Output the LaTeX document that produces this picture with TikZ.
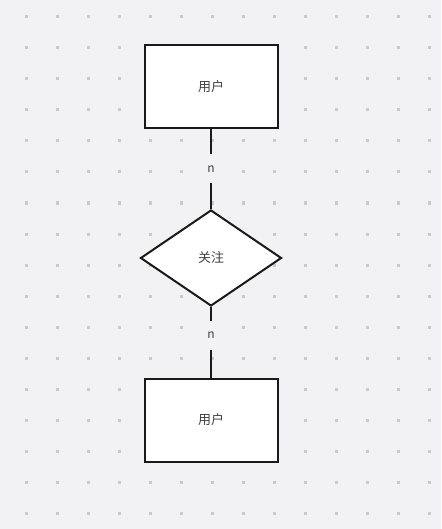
\documentclass[tikz,border=0pt]{standalone}
\usepackage{fontspec}
\setmainfont{Noto Sans CJK SC}
\usetikzlibrary{shapes.geometric}
\definecolor{canvas}{HTML}{F2F2F4}
\definecolor{griddot}{HTML}{CACACE}
\definecolor{ink}{HTML}{1A1A1A}
\definecolor{txt}{HTML}{404040}

\begin{document}
\begin{tikzpicture}[
  x=1pt, y=-1pt,
  font=\fontsize{13}{15}\selectfont,
  ent/.style={draw=ink, line width=2pt, fill=white, text=txt,
              minimum width=133pt, minimum height=83pt, inner sep=0pt},
  rel/.style={ent, diamond, minimum width=141pt, minimum height=96pt},
  link/.style={draw=ink, line width=2pt},
  lab/.style={fill=canvas, text=txt, inner sep=0pt, minimum height=29pt,
              font=\fontsize{12}{13}\selectfont}
]

% background and dot grid
\fill[canvas] (0,0) rectangle (441,529);
\useasboundingbox (0,0) rectangle (441,529);
\foreach \i in {0,...,13}
  \foreach \j in {0,...,16}
    \fill[griddot] ({26+31*\i-1.5},{17+31*\j-1.5}) rectangle ++(3,3);

\node[ent] (u1) at (211, 86.5) {用户};
\node[rel] (gz) at (211, 258) {关注};
\node[ent] (u2) at (211, 420) {用户};

\draw[link] (u1) -- node[lab, pos=0.5] (n1) {n} (gz);
\draw[link] (gz) -- node[lab, pos=0.4] (n2) {n} (u2);

\end{tikzpicture}
\end{document}
